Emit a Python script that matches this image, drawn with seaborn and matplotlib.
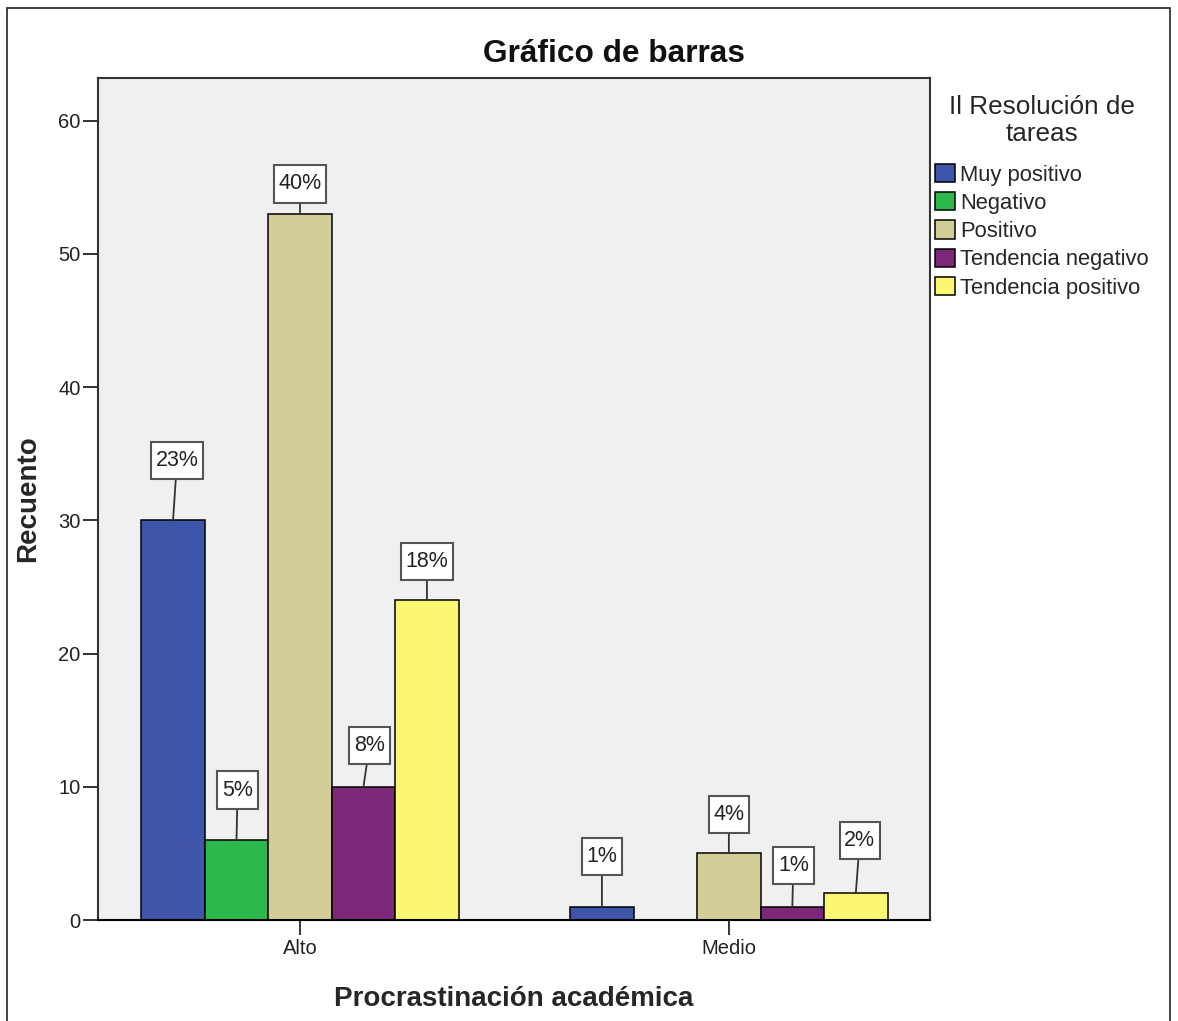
import numpy as np
import pandas as pd
import matplotlib
matplotlib.use("Agg")
import matplotlib.pyplot as plt
from matplotlib.patches import Patch, Rectangle
from matplotlib.path import Path
import seaborn as sns

# Counts per group of "Procrastinación académica" and level of "Resolución de tareas"
groups = ["Alto", "Medio"]
levels = ["Muy positivo", "Negativo", "Positivo", "Tendencia negativo", "Tendencia positivo"]
counts_alto = [30, 6, 53, 10, 24]
counts_medio = [1, np.nan, 5, 1, 2]   # no "Negativo" cases in Medio
y_ticks = [0, 10, 20, 30, 40, 50, 60]

colors = ["#3D56A9", "#2DB84B", "#D3CE98", "#7C2878", "#FBF772"]
palette = dict(zip(levels, colors))

# Label box placement (dx, dy in pixels from the top centre of each bar)
label_shift = {
    ("Alto", "Muy positivo"): (4, 60),
    ("Alto", "Negativo"): (1, 50),
    ("Alto", "Positivo"): (0, 30),
    ("Alto", "Tendencia negativo"): (6, 41),
    ("Alto", "Tendencia positivo"): (0, 39),
    ("Medio", "Muy positivo"): (0, 50),
    ("Medio", "Positivo"): (0, 39),
    ("Medio", "Tendencia negativo"): (1, 41),
    ("Medio", "Tendencia positivo"): (4, 53),
}

rows = []
for g, vals in zip(groups, [counts_alto, counts_medio]):
    for lvl, v in zip(levels, vals):
        rows.append({"group": g, "level": lvl, "count": v})
df = pd.DataFrame(rows).dropna()
total = df["count"].sum()


def tall_box(x0, y0, width, height, mutation_size):
    """Square label box with more room above and below the text."""
    px, py = 0.22 * mutation_size, 0.38 * mutation_size
    xa, xb = x0 - px, x0 + width + px
    ya, yb = y0 - py, y0 + height + py
    return Path([(xa, ya), (xb, ya), (xb, yb), (xa, yb), (xa, ya)], closed=True)


sns.set_style("white")
plt.rcParams["font.family"] = ["Liberation Sans", "DejaVu Sans"]

W, H = 1178, 1021
fig = plt.figure(figsize=(W / 100, H / 100), dpi=100)
fig.patch.set_facecolor("white")
ax = fig.add_axes([98 / W, 1 - 920 / H, (930 - 98) / W, (920 - 78) / H])
ax.set_facecolor("#F0F0F0")

sns.barplot(data=df, x="group", y="count", hue="level", order=groups,
            hue_order=levels, palette=palette, saturation=1, width=0.74, gap=0,
            edgecolor="black", linewidth=1.1, errorbar=None,
            legend=False, ax=ax, zorder=2)

ax.set_xlim(-0.471, 1.469)
ax.set_ylim(0, 63.2)
ax.set_yticks(y_ticks)
ax.set_yticklabels([str(t) for t in y_ticks])

for sp in ax.spines.values():
    sp.set_visible(True)
    sp.set_color("#333333")
    sp.set_linewidth(1.5)
ax.spines["bottom"].set_color("black")

ax.tick_params(axis="y", direction="out", length=10.5, width=1.4, color="#333333",
               labelsize=14.5, labelcolor="#222222", pad=2, left=True)
ax.tick_params(axis="x", direction="out", length=10.5, width=1.4, color="#333333",
               labelsize=14.5, labelcolor="#222222", pad=3, bottom=True)

ax.set_xlabel("Procrastinación académica", fontsize=20, fontweight="bold")
ax.set_ylabel("Recuento", fontsize=20, fontweight="bold")
ax.xaxis.label.set_verticalalignment("center")
ax.yaxis.label.set_verticalalignment("center")
ax.xaxis.set_label_coords(0.5, -(999 - 920) / 842)
ax.yaxis.set_label_coords(-(98 - 28) / 832, 0.5)

# Percentage labels in boxes with leader lines
for lvl, cont in zip(levels, ax.containers):
    for bar in cont:
        h = bar.get_height()
        if not np.isfinite(h):
            continue
        xc = bar.get_x() + bar.get_width() / 2
        g = groups[int(round(xc))]
        dx, dy = label_shift[(g, lvl)]
        pct = h / total * 100
        ax.annotate(f"{pct:.0f}%", xy=(xc, h), xytext=(dx * 0.72, dy * 0.72),
                    textcoords="offset points", ha="center", va="center",
                    fontsize=15.5, color="#222222", zorder=5,
                    bbox=dict(boxstyle=tall_box, fc="white",
                              ec="#555555", lw=1.5),
                    arrowprops=dict(arrowstyle="-", color="#333333", lw=1.3,
                                    shrinkA=0, shrinkB=0))

fig.text(614 / W, 1 - 54 / H, "Gráfico de barras", ha="center", va="center",
         fontsize=22.8, fontweight="bold", color="#111111")

handles = [Patch(facecolor=palette[l], edgecolor="black", linewidth=1.1) for l in levels]
leg = ax.legend(handles, levels, title="Il Resolución de\ntareas",
                loc="upper left", bbox_to_anchor=(935 / W, 1 - 95 / H),
                bbox_transform=fig.transFigure, frameon=False, fontsize=15.8,
                title_fontsize=18.8, handlelength=0.9, handleheight=0.9,
                handletextpad=0.25, labelspacing=0.3, borderpad=0,
                borderaxespad=0)
leg.get_title().set_multialignment("center")
leg.get_title().set_linespacing(1.15)
leg._legend_box.sep = 13

# Outer frame of the figure
fig.patches.append(Rectangle((7 / W, -0.02), (1170 - 7) / W, 1.02 - 8 / H,
                             transform=fig.transFigure, fill=False,
                             ec="#222222", lw=1.2))

fig.savefig("out.png", dpi=100)
